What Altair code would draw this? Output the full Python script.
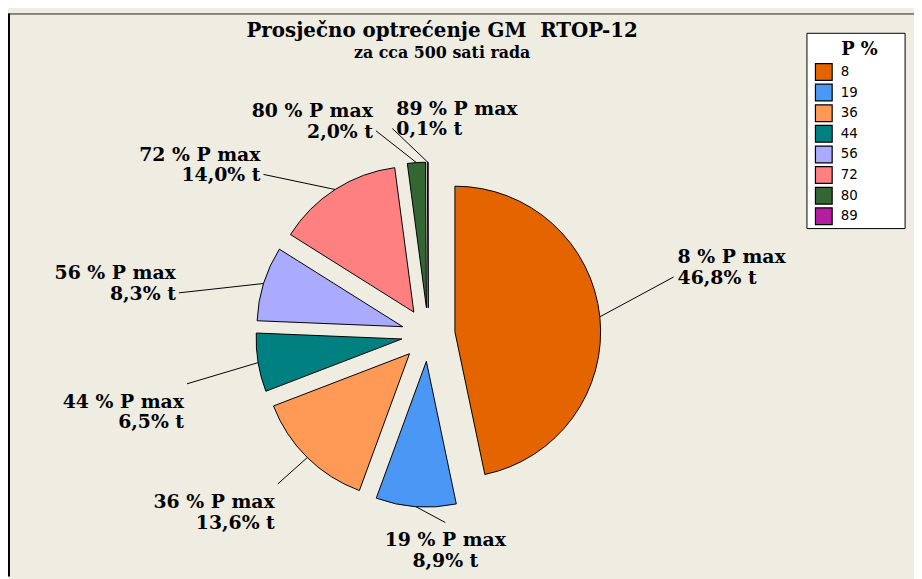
import math
import altair as alt
import pandas as pd

# ---- data ----
categories = ["8", "19", "36", "44", "56", "72", "80", "89"]
shares = [46.8, 8.9, 13.6, 6.5, 8.3, 14.0, 2.0, 0.1]
colors = ["#E46500", "#4B97F5", "#FF9A56", "#008080", "#AAAAFF", "#FF8080", "#336633", "#B41E9E"]
title_text = "Prosječno optrećenje GM\u00a0 RTOP-12"
subtitle_text = "za cca 500 sati rada"
legend_title = "P %"

df = pd.DataFrame({
    "idx": list(range(len(categories))),
    "cat": categories,
    "share": shares,
})
df["label"] = [f"{c} % P max\n" + f"{s:.1f}".replace(".", ",") + "% t" for c, s in zip(categories, shares)]

# ---- layout ----
W, H = 914, 571
CX, CY = 424, 327      # pie centre (px)
R = 147                # radius
D = 27                 # explode distance
LCY = CY - 10          # label ellipse centre y
RX, RY = 255, 200      # label ellipse
ROT = 8 * math.pi / 180
BG = "#EFECE2"
SERIF = "DejaVu Serif"

color_scale = alt.Scale(domain=categories, range=colors)

base = (
    alt.Chart(df)
    .transform_joinaggregate(total="sum(share)")
    .transform_window(cum="sum(share)", sort=[alt.SortField("idx")], frame=[None, 0])
    .transform_calculate(a1="2*PI*datum.cum/datum.total")
    .transform_calculate(a0="2*PI*(datum.cum-datum.share)/datum.total")
    .transform_calculate(mid="(datum.a0+datum.a1)/2")
    .transform_calculate(la=f"datum.mid-{ROT}")
    .transform_calculate(cx=f"{CX}+{D}*sin(datum.mid)")
    .transform_calculate(cy=f"{CY}-{D}*cos(datum.mid)")
    .transform_calculate(sx=f"datum.cx+{R}*sin(datum.mid)")
    .transform_calculate(sy=f"datum.cy-{R}*cos(datum.mid)")
    .transform_calculate(lx=f"{CX}+{RX}*sin(datum.la)")
    .transform_calculate(ly=f"{LCY}-{RY}*cos(datum.la)")
    .transform_calculate(ty="datum.ly + (cos(datum.la) > 0 ? -20 : 18)")
    .transform_calculate(side="cos(datum.mid) < -0.9 ? 'c' : (sin(datum.mid) > -0.02 ? 'l' : 'r')")
)

arcs = base.mark_arc(radius=R, stroke="black", strokeWidth=1).encode(
    theta=alt.Theta("a0:Q", scale=None),
    theta2="a1:Q",
    x=alt.X("cx:Q", scale=None),
    y=alt.Y("cy:Q", scale=None),
    color=alt.Color("cat:N", scale=color_scale, legend=None),
)

leaders = base.mark_rule(color="black", strokeWidth=1).encode(
    x=alt.X("sx:Q", scale=None),
    y=alt.Y("sy:Q", scale=None),
    x2="lx:Q",
    y2="ly:Q",
)


def label_layer(side, align, dx):
    return base.transform_filter(f"datum.side == '{side}'").mark_text(
        align=align, baseline="middle", dx=dx, lineBreak="\n",
        font=SERIF, fontWeight="bold", fontSize=19, lineHeight=21, color="black",
    ).encode(
        x=alt.X("lx:Q", scale=None),
        y=alt.Y("ty:Q", scale=None),
        text="label:N",
    )


labels = [label_layer("l", "left", 4), label_layer("r", "right", -3), label_layer("c", "center", 0)]

one = pd.DataFrame({"a": [0]})
frame_top = alt.Chart(one).mark_rule(color="#222222", strokeWidth=1).encode(
    x=alt.value(0), x2=alt.value(W), y=alt.value(3.5))
frame_left = alt.Chart(one).mark_rule(color="black", strokeWidth=2).encode(
    x=alt.value(1), y=alt.value(3), y2=alt.value(H))

title = alt.Chart(pd.DataFrame({"t": [title_text]})).mark_text(
    font=SERIF, fontWeight="bold", fontSize=20, align="center", baseline="alphabetic", color="black"
).encode(x=alt.value(438), y=alt.value(27), text="t:N")
subtitle = alt.Chart(pd.DataFrame({"t": [subtitle_text]})).mark_text(
    font=SERIF, fontWeight="bold", fontSize=16, align="center", baseline="alphabetic", color="black"
).encode(x=alt.value(438), y=alt.value(48), text="t:N")

# ---- legend ----
leg = alt.Chart(pd.DataFrame({"idx": list(range(len(categories))), "cat": categories})).transform_calculate(
    ly="62 + datum.idx*20.8")
leg_box = alt.Chart(one).mark_rect(fill="white", stroke="black", strokeWidth=1).encode(
    x=alt.value(806), x2=alt.value(905), y=alt.value(23), y2=alt.value(220))
leg_title = alt.Chart(pd.DataFrame({"t": [legend_title]})).mark_text(
    font=SERIF, fontWeight="bold", fontSize=18, align="center", baseline="alphabetic", color="black"
).encode(x=alt.value(859), y=alt.value(45), text="t:N")
leg_sw = leg.mark_square(size=285, opacity=1, stroke="black", strokeWidth=1.2).encode(
    x=alt.value(823), y=alt.Y("ly:Q", scale=None),
    color=alt.Color("cat:N", scale=color_scale, legend=None))
leg_lab = leg.mark_text(font="DejaVu Sans", fontSize=13.5, align="left", baseline="middle", color="black").encode(
    x=alt.value(840), y=alt.Y("ly:Q", scale=None), text="cat:N")

chart = alt.layer(
    frame_top, frame_left, arcs, leaders, *labels, title, subtitle,
    leg_box, leg_title, leg_sw, leg_lab,
).properties(
    width=W, height=H, background=BG, padding=0, autosize="none"
).configure_view(stroke=None)

chart.save("out.html", embed_options={"renderer": "svg", "actions": False})
